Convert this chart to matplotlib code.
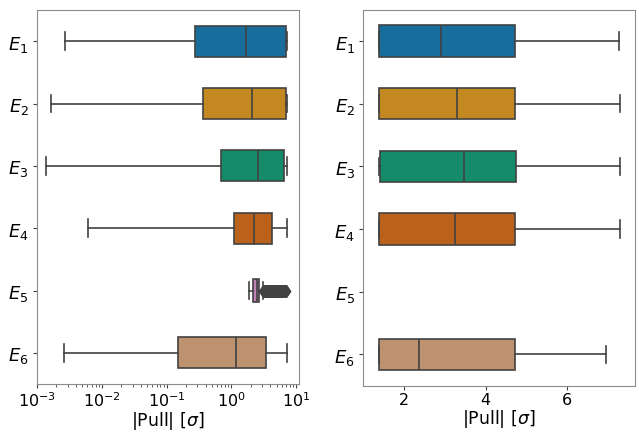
import colorsys
import numpy as np
import matplotlib
matplotlib.use("Agg")
import matplotlib.pyplot as plt
import matplotlib.colors as mcolors

# categories and box statistics
labels = ["$E_1$", "$E_2$", "$E_3$", "$E_4$", "$E_5$", "$E_6$"]

# left panel: all pulls (log axis)
left_whislo = [0.00268, 0.00163, 0.00138, 0.00606, 1.90, 0.00259]
left_q1 = [0.275, 0.370, 0.695, 1.09, 2.19, 0.149]
left_med = [1.71, 2.07, 2.59, 2.27, 2.45, 1.17]
left_q3 = [6.93, 6.93, 6.46, 4.26, 2.71, 3.44]
left_whishi = [7.34, 7.34, 7.26, 7.18, 3.06, 7.34]
e5_fliers = [3.12, 3.16, 3.2, 3.25, 3.3, 3.35, 3.4, 3.45, 3.5, 3.56, 3.62,
             3.68, 3.75, 3.82, 3.9, 3.97, 4.05, 4.12, 4.2, 4.3, 4.4, 4.5,
             4.6, 4.7, 4.8, 4.9, 5.0, 5.12, 5.25, 5.37, 5.5, 5.62, 5.75,
             5.87, 6.0, 6.15, 6.3, 6.45, 6.6, 6.75, 6.9, 7.0]

# right panel: E5 has no entries
right_cats = [0, 1, 2, 3, 5]
right_whislo = [1.37, 1.37, 1.37, 1.37, 1.37]
right_q1 = [1.38, 1.38, 1.40, 1.38, 1.38]
right_med = [2.90, 3.31, 3.48, 3.24, 2.36]
right_q3 = [4.73, 4.73, 4.75, 4.73, 4.73]
right_whishi = [7.28, 7.30, 7.30, 7.31, 6.97]

palette = ["#0173b2", "#de8f05", "#029e73", "#d55e00", "#cc78bc", "#ca9161"]


def desat(c, s=0.75):
    r, g, b = mcolors.to_rgb(c)
    h, l, sat = colorsys.rgb_to_hls(r, g, b)
    return colorsys.hls_to_rgb(h, l, sat * s)


colors = [desat(c) for c in palette]
line_c = "#424242"
spine_c = "#8c8c8c"


def draw(ax, idx, whislo, q1, med, q3, whishi, fliers, widths):
    stats = []
    for k in range(len(idx)):
        stats.append(dict(whislo=whislo[k], q1=q1[k], med=med[k], q3=q3[k],
                          whishi=whishi[k], fliers=fliers[k]))
    bp = ax.bxp(stats, positions=idx, vert=False, widths=widths,
                capwidths=0.28, patch_artist=True, showfliers=True,
                boxprops=dict(edgecolor=line_c, linewidth=1.2),
                medianprops=dict(color=line_c, linewidth=1.2),
                whiskerprops=dict(color=line_c, linewidth=1.2),
                capprops=dict(color=line_c, linewidth=1.2),
                flierprops=dict(marker="d", markerfacecolor=line_c,
                                markeredgecolor=line_c, markersize=6))
    for patch, i in zip(bp["boxes"], idx):
        patch.set_facecolor(colors[i])


fig = plt.figure(figsize=(6.39, 4.35), dpi=100)
ax1 = fig.add_axes([0.0579, 0.1149, 0.4105, 0.8598])
ax2 = fig.add_axes([0.5685, 0.1110, 0.4252, 0.8644])

left_fl = [[], [], [], [], e5_fliers, []]
left_w = [0.5, 0.5, 0.5, 0.5, 0.36, 0.5]
draw(ax1, list(range(6)), left_whislo, left_q1, left_med, left_q3,
     left_whishi, left_fl, left_w)
ax1.set_xscale("log")
ax1.set_xlim(1e-3, 11.2)

draw(ax2, right_cats, right_whislo, right_q1, right_med, right_q3,
     right_whishi, [[]] * 5, 0.5)
ax2.set_xlim(0.99, 7.68)
ax2.set_xticks([2, 4, 6])

for ax in (ax1, ax2):
    ax.set_ylim(5.5, -0.5)
    ax.set_yticks(range(6))
    ax.set_yticklabels(labels, fontsize=13)
    ax.tick_params(axis="x", labelsize=11.5, colors=line_c, labelcolor="black",
                   length=3, pad=1.5)
    ax.tick_params(axis="y", colors=line_c, labelcolor="black", length=3,
                   pad=3)
    ax.tick_params(which="minor", colors=line_c, length=2)
    ax.set_xlabel(r"|Pull| [$\sigma$]", fontsize=12.5, labelpad=0)
    for s in ax.spines.values():
        s.set_color(spine_c)

fig.savefig("out.png", dpi=100)
